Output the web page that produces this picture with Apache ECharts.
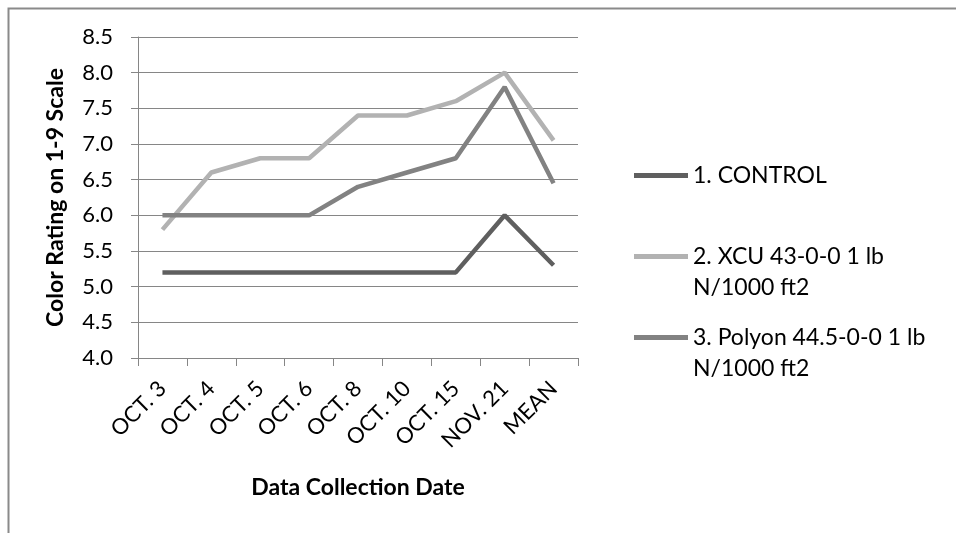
<!DOCTYPE html>
<html>
<head>
<meta charset="utf-8">
<script src="https://cdn.jsdelivr.net/npm/echarts@6/dist/echarts.min.js"></script>
<style>
html,body{margin:0;padding:0;background:#fff;}
#chart{width:956px;height:533px;}
</style>
</head>
<body>
<div id="chart"></div>
<script>
var categories = ['OCT. 3','OCT. 4','OCT. 5','OCT. 6','OCT. 8','OCT. 10','OCT. 15','NOV. 21','MEAN'];
var control = [5.2, 5.2, 5.2, 5.2, 5.2, 5.2, 5.2, 6.0, 5.3];
var xcu = [5.8, 6.6, 6.8, 6.8, 7.4, 7.4, 7.6, 8.0, 7.05];
var polyon = [6.0, 6.0, 6.0, 6.0, 6.4, 6.6, 6.8, 7.8, 6.45];
var seriesNames = ['1. CONTROL', '2. XCU 43-0-0 1 lb\nN/1000 ft2', '3. Polyon 44.5-0-0 1 lb\nN/1000 ft2'];
var seriesColors = ['#5f5f5f', '#b2b2b2', '#828282'];

var FONT = 'Lato';
var chart = echarts.init(document.getElementById('chart'), null, {renderer: 'canvas'});

function legendFor(idx, top, twoLine) {
  return {
    data: [seriesNames[idx]],
    orient: 'vertical',
    left: 634,
    top: top,
    padding: 0,
    icon: 'rect',
    itemWidth: 54,
    itemHeight: 5,
    itemGap: 0,
    selectedMode: false,
    formatter: function (n) { return twoLine ? ' \n' + n : n; },
    textStyle: {fontFamily: FONT, fontSize: 23, color: '#000', lineHeight: 31}
  };
}

chart.setOption({
  animation: false,
  backgroundColor: '#fff',
  graphic: [{
    type: 'rect', left: 6, top: 6, shape: {x: 0, y: 0, width: 1000, height: 600},
    style: {fill: 'none', stroke: '#8a8a8a', lineWidth: 2}, silent: true
  }],
  grid: {left: 138, right: 378, top: 37, bottom: 175},
  legend: [
    legendFor(0, 160, false),
    legendFor(1, 210, true),
    legendFor(2, 291, true)
  ],
  xAxis: {
    type: 'category',
    data: categories,
    boundaryGap: true,
    name: 'Data Collection Date',
    nameLocation: 'middle',
    nameGap: 118,
    nameTextStyle: {fontFamily: FONT, fontSize: 23, fontWeight: 'bold', color: '#000'},
    axisLine: {lineStyle: {color: '#868686', width: 1}},
    axisTick: {show: true, length: 8, lineStyle: {color: '#868686'}},
    axisLabel: {rotate: 45, fontFamily: FONT, fontSize: 22, color: '#000', margin: 27, interval: 0}
  },
  yAxis: {
    type: 'value',
    min: 4.0, max: 8.5, interval: 0.5,
    name: 'Color Rating on 1-9 Scale',
    nameLocation: 'middle',
    nameGap: 71,
    nameTextStyle: {fontFamily: FONT, fontSize: 23, fontWeight: 'bold', color: '#000'},
    axisLine: {show: true, lineStyle: {color: '#868686', width: 1}},
    axisTick: {show: true, length: 7, lineStyle: {color: '#868686'}},
    axisLabel: {fontFamily: FONT, fontSize: 22, color: '#000', margin: 25,
      formatter: function (v) { return v.toFixed(1); }},
    splitLine: {show: true, lineStyle: {color: '#868686', width: 1}}
  },
  series: [
    {name: seriesNames[0], type: 'line', data: control, symbol: 'none',
     lineStyle: {color: seriesColors[0], width: 4.5}, itemStyle: {color: seriesColors[0]}},
    {name: seriesNames[1], type: 'line', data: xcu, symbol: 'none',
     lineStyle: {color: seriesColors[1], width: 4.5}, itemStyle: {color: seriesColors[1]}},
    {name: seriesNames[2], type: 'line', data: polyon, symbol: 'none',
     lineStyle: {color: seriesColors[2], width: 4.5}, itemStyle: {color: seriesColors[2]}}
  ]
});
</script>
</body>
</html>
